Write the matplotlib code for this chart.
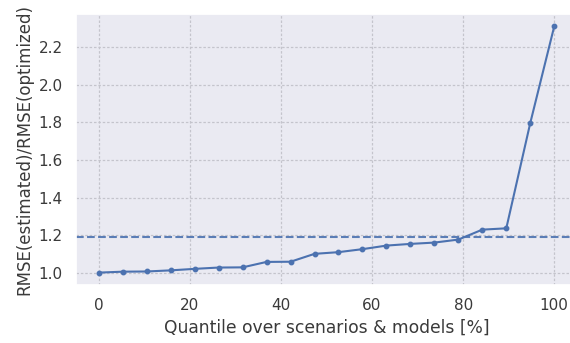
import numpy as np
import matplotlib
matplotlib.use("Agg")
import matplotlib.pyplot as plt
import seaborn as sns

sns.set_theme(style="darkgrid")
plt.rcParams['font.family'] = ['DejaVu Sans']

# Quantile positions (percent) and RMSE ratios
quantiles = np.linspace(0, 100, 20)
rmse_ratio = [1.000, 1.005, 1.006, 1.012, 1.020, 1.027, 1.028, 1.057, 1.058,
              1.100, 1.109, 1.125, 1.144, 1.153, 1.160, 1.176, 1.229, 1.236,
              1.797, 2.312]
mean_ratio = np.mean(rmse_ratio)

fig = plt.figure(figsize=(5.70, 3.43), dpi=100)
ax = fig.add_axes([76 / 570, 1 - 285 / 343, (577 - 76) / 570, (285 - 14) / 343])

ax.grid(True, color="#c4c4cc", linestyle=(0, (2, 1.5)), linewidth=0.9)
ax.plot(quantiles, rmse_ratio, marker="o", markersize=3.2, color="#4C72B0",
        linewidth=1.5)
ax.axhline(mean_ratio, color="#4C72B0", linestyle="--", linewidth=1.5, alpha=0.9)

ax.set_xlim(-5, 105)
ax.set_ylim(0.934, 2.378)
ax.set_yticks([1.0, 1.2, 1.4, 1.6, 1.8, 2.0, 2.2])
ax.set_xticks([0, 20, 40, 60, 80, 100])
ax.tick_params(labelcolor="#3a3a3a")
ax.set_xlabel("Quantile over scenarios & models [%]", fontsize=12.3, color="#3a3a3a")
ax.set_ylabel("RMSE(estimated)/RMSE(optimized)", fontsize=12, color="#3a3a3a")

fig.savefig("out.png", dpi=100)
